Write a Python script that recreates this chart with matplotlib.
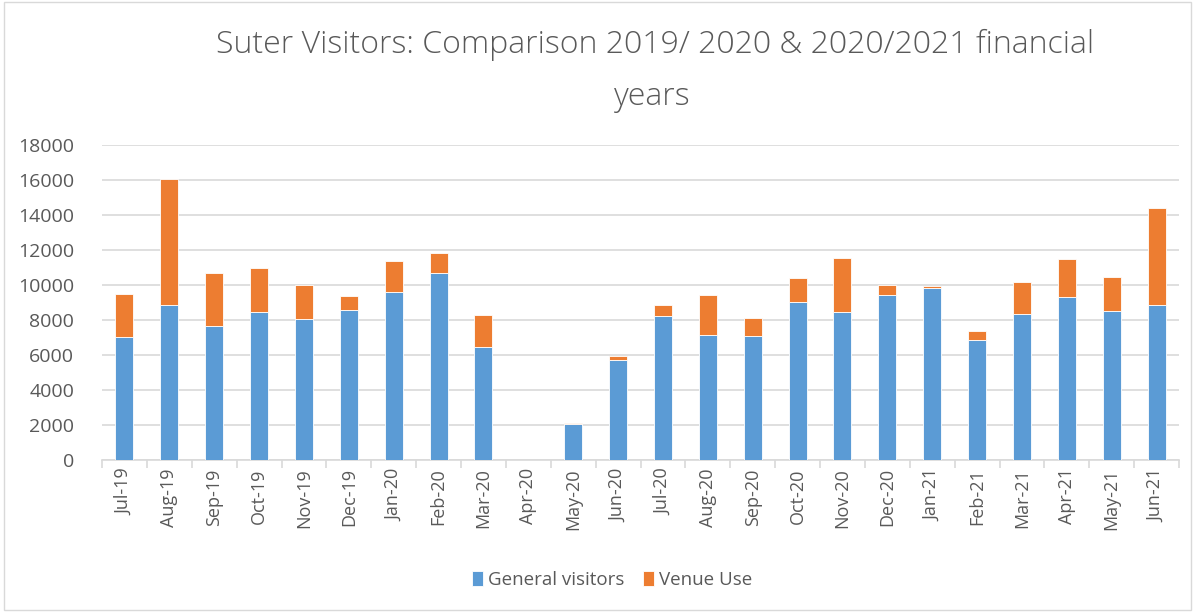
import numpy as np
import matplotlib.pyplot as plt
from matplotlib.patches import Rectangle

# months of the two financial years
months = ['Jul-19', 'Aug-19', 'Sep-19', 'Oct-19', 'Nov-19', 'Dec-19',
          'Jan-20', 'Feb-20', 'Mar-20', 'Apr-20', 'May-20', 'Jun-20',
          'Jul-20', 'Aug-20', 'Sep-20', 'Oct-20', 'Nov-20', 'Dec-20',
          'Jan-21', 'Feb-21', 'Mar-21', 'Apr-21', 'May-21', 'Jun-21']

general = [7020, 8870, 7650, 8470, 8050, 8580,
           9590, 10680, 6460, 0, 2060, 5720,
           8240, 7130, 7090, 9020, 8470, 9420,
           9840, 6880, 8350, 9310, 8500, 8870]

venue = [2480, 7190, 3050, 2510, 1940, 780,
         1760, 1160, 1850, 0, 60, 210,
         590, 2290, 1030, 1390, 3050, 570,
         110, 500, 1850, 2150, 1930, 5510]

blue = '#5B9BD5'
orange = '#ED7D31'
txt = '#595959'

plt.rcParams['font.family'] = ['Open Sans', 'DejaVu Sans']

fig = plt.figure(figsize=(11.95, 6.12), dpi=100)
ax = fig.add_axes([102 / 1195, 1 - 460 / 612, (1179 - 102) / 1195, (460 - 145) / 612])

x = np.arange(len(months))
ax.bar(x, general, width=0.4, color=blue, edgecolor='white', linewidth=0.6,
       label='General visitors', zorder=3)
ax.bar(x, venue, width=0.4, bottom=general, color=orange, edgecolor='white',
       linewidth=0.6, label='Venue Use', zorder=3)

ax.set_xlim(-0.5, len(months) - 0.5)
ax.set_ylim(0, 18000)
ax.set_yticks(range(0, 18001, 2000))
ax.yaxis.grid(True, color='#d9d9d9', linewidth=1.2, zorder=0)
ax.tick_params(axis='y', length=0, labelsize=14, labelcolor=txt, pad=20)

ax.set_xticks(x)
ax.set_xticklabels(months, rotation=90, fontsize=13, color=txt)
ax.tick_params(axis='x', length=0, pad=6)
ax.set_xticks(np.arange(-0.5, len(months)), minor=True)
ax.tick_params(axis='x', which='minor', length=6, color='#d9d9d9', width=1.2)

for s in ['top', 'right', 'left']:
    ax.spines[s].set_visible(False)
ax.spines['bottom'].set_color('#d9d9d9')
ax.spines['bottom'].set_linewidth(1.2)

fig.text(655 / 1195, 1 - 53 / 612,
         'Suter Visitors: Comparison 2019/ 2020 & 2020/2021 financial',
         ha='center', va='baseline', fontsize=23, color=txt, fontweight='light')
fig.text(652 / 1195, 1 - 105 / 612, 'years',
         ha='center', va='baseline', fontsize=23, color=txt, fontweight='light')

fig.legend(loc='center', bbox_to_anchor=(612 / 1195, 1 - 580 / 612), ncol=2,
           frameon=False, fontsize=13.5, labelcolor=txt, handlelength=0.6,
           handleheight=0.8, handletextpad=0.25, columnspacing=1.0)

fig.add_artist(Rectangle((0.003, 0.003), 0.994, 0.994, transform=fig.transFigure,
                         fill=False, edgecolor='#d9d9d9', linewidth=1))

fig.savefig('out.png', dpi=100)
